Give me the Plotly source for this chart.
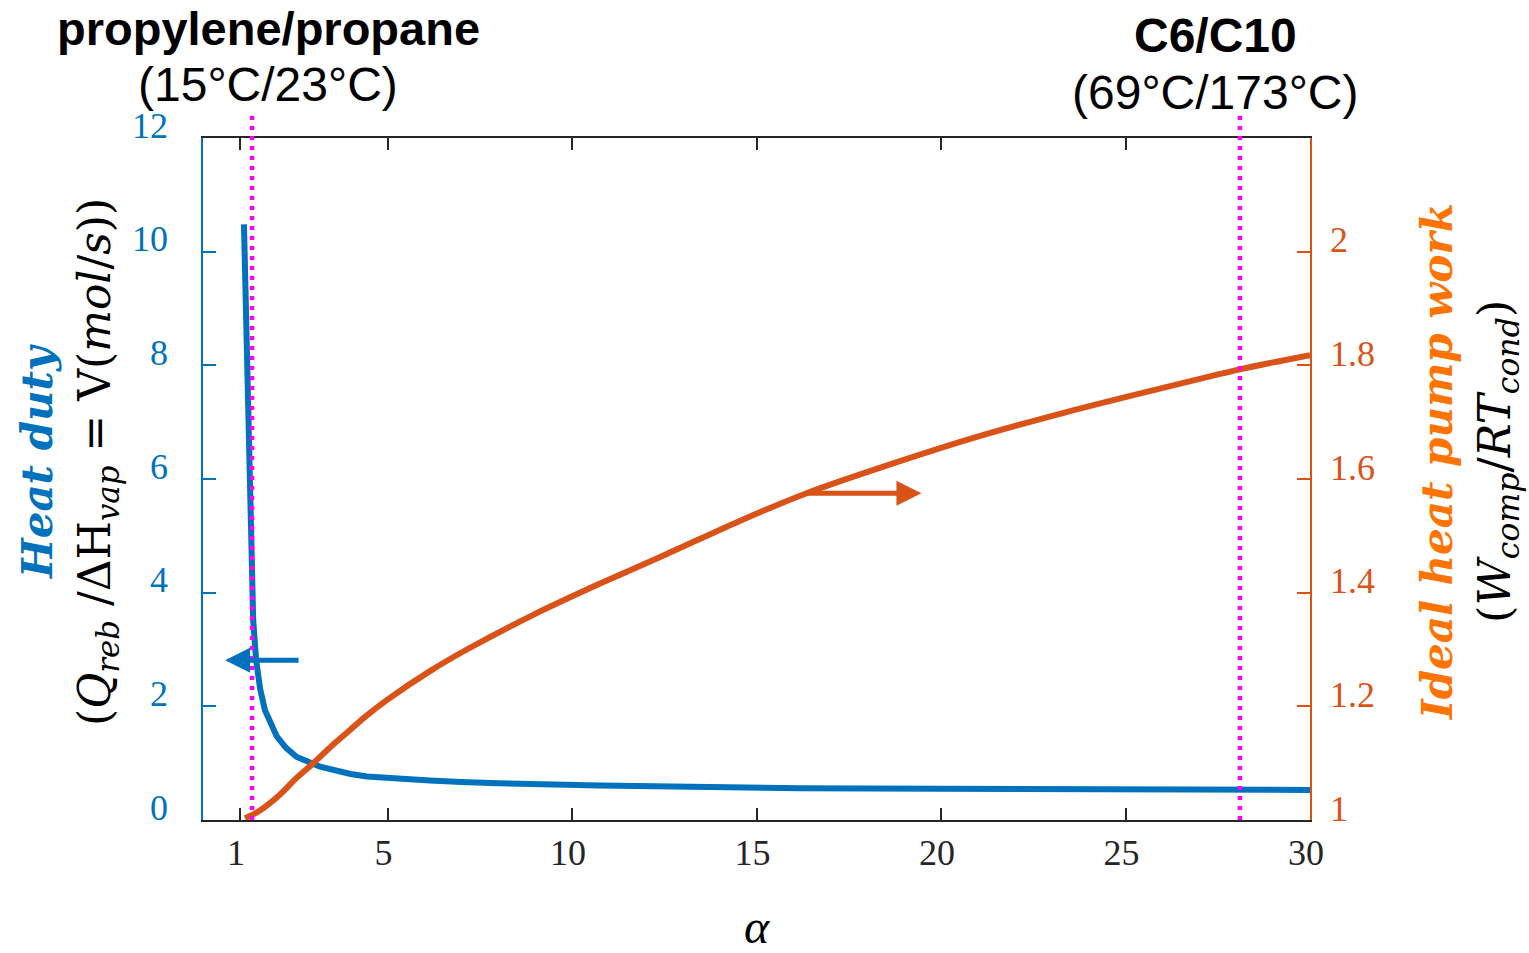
import plotly.graph_objects as go

# ---- data ----
alpha_duty = [1.11, 1.36, 1.44, 1.55, 1.68, 1.8, 2.0, 2.25, 2.54, 3.17, 3.6, 4.0, 4.44, 5.34, 6.15, 7.0, 8.0,
              10.76, 13.0, 16.18, 20.0, 24.3, 30.0]
heat_duty = [10.48, 3.52, 2.81, 2.30, 1.93, 1.75, 1.47, 1.27, 1.11, 0.94, 0.86, 0.81, 0.765, 0.72, 0.695, 0.67,
             0.645, 0.607, 0.58, 0.557, 0.548, 0.54, 0.528]

alpha_work = [1.14, 1.5, 2.09, 2.5, 2.99, 3.5, 3.89, 4.4, 4.98, 6.15, 7.15, 8.95, 10.76, 12.57, 14.5, 16.36,
              18.5, 20.97, 23.3, 25.68, 28.1, 30.0]
hp_work = [1.003, 1.015, 1.045, 1.072, 1.100, 1.131, 1.153, 1.182, 1.211, 1.262, 1.300, 1.361, 1.416, 1.468,
           1.525, 1.575, 1.623, 1.674, 1.716, 1.755, 1.793, 1.818]

marker_alphas = [1.33, 28.1]          # vertical dotted lines
x_ticks = [1, 5, 10, 15, 20, 25, 30]
y1_ticks = [0, 2, 4, 6, 8, 10, 12]
y2_ticks = [1, 1.2, 1.4, 1.6, 1.8, 2]
y2_ticklabels = ["1", "1.2", "1.4", "1.6", "1.8", "2"]

BLUE = "#0072BD"
ORANGE = "#D95319"
TITLE_ORANGE = "#FF7300"
MAGENTA = "#FF00FF"
DARK = "#262626"

W, H = 1529, 953
L, R, T, B = 203, 1310, 138, 820


def px(xp):
    return (xp - L) / (R - L)


def py(yp):
    return (B - yp) / (B - T)


fig = go.Figure()
fig.add_trace(go.Scatter(x=alpha_duty, y=heat_duty, mode="lines",
                         line=dict(color=BLUE, width=6), showlegend=False, cliponaxis=False))
fig.add_trace(go.Scatter(x=alpha_work, y=hp_work, mode="lines", yaxis="y2",
                         line=dict(color=ORANGE, width=6, shape="spline", smoothing=0.8),
                         showlegend=False, cliponaxis=False))

for a in marker_alphas:
    fig.add_shape(type="line", xref="x", yref="paper", x0=a, x1=a, y0=0, y1=py(113),
                  line=dict(color=MAGENTA, width=4.5, dash="4px,6px"))

serif = "Liberation Serif"
sans = "Liberation Sans"
mathf = "DejaVu Serif"


def label(xp, yp, text, font, angle=0):
    return dict(x=px(xp), y=py(yp), xref="paper", yref="paper", text=text, textangle=angle,
                xanchor="center", yanchor="middle", showarrow=False, font=font)


annotations = [
    # arrows
    dict(x=0.6, y=2.81, ax=2.63, ay=2.81, xref="x", yref="y", axref="x", ayref="y",
         text="", showarrow=True, arrowhead=2, arrowsize=1, arrowwidth=5, arrowcolor=BLUE),
    dict(x=19.47, y=1.575, ax=16.36, ay=1.575, xref="x", yref="y2", axref="x", ayref="y2",
         text="", showarrow=True, arrowhead=2, arrowsize=1, arrowwidth=5, arrowcolor=ORANGE),
    # top labels
    label(268, 29, "<b>propylene/propane</b>", dict(family=sans, size=47, color="black")),
    label(268, 84, "(15°C/23°C)", dict(family=sans, size=48, color="black")),
    label(1215, 36, "<b>C6/C10</b>", dict(family=sans, size=48, color="black")),
    label(1215, 92, "(69°C/173°C)", dict(family=sans, size=48, color="black")),
    # left axis title
    label(37, 462, "<b><i>Heat duty</i></b>", dict(family=mathf, size=42, color=BLUE), -90),
    label(97, 462, "(<i>Q</i><sub><i>reb</i></sub> /ΔH<sub><i>vap</i></sub> = V(<i>mol</i>/<i>s</i>))",
          dict(family=mathf, size=44, color="black"), -90),
    # right axis title
    label(1437, 462, "<b><i>Ideal heat pump work</i></b>", dict(family=mathf, size=42, color=TITLE_ORANGE), -90),
    label(1497, 462, "(<i>W</i><sub><i>comp</i></sub>/<i>RT</i><sub><i>cond</i></sub>)",
          dict(family=mathf, size=45, color="black"), -90),
    # x axis title
    label(757, 926, "<i>α</i>", dict(family=serif, size=48, color="black")),
]

fig.update_layout(
    width=W, height=H,
    margin=dict(l=L, r=W - R, t=T, b=H - B, pad=0),
    paper_bgcolor="white", plot_bgcolor="white",
    annotations=annotations,
    xaxis=dict(range=[0, 30], tickvals=x_ticks, ticks="inside", ticklen=12, tickwidth=1.5,
               tickcolor=DARK, showline=True, linecolor=DARK, linewidth=1.5, mirror="ticks",
               showgrid=False, zeroline=False,
               tickfont=dict(family=serif, size=36, color=DARK),
               ticklabelstandoff=0, ticklabelshift=-4),
    yaxis=dict(range=[0, 12], tickvals=y1_ticks, ticks="inside", ticklen=13, tickwidth=1.5,
               tickcolor=BLUE, showline=True, linecolor=BLUE, linewidth=1.5,
               showgrid=False, zeroline=False,
               tickfont=dict(family=serif, size=36, color=BLUE),
               ticklabelstandoff=26, ticklabelshift=-13),
    yaxis2=dict(range=[1, 2.2], tickvals=y2_ticks, ticktext=y2_ticklabels, overlaying="y", side="right",
                ticks="inside", ticklen=13, tickwidth=1.5, tickcolor=ORANGE,
                showline=True, linecolor=ORANGE, linewidth=1.5,
                showgrid=False, zeroline=False,
                tickfont=dict(family=serif, size=36, color=ORANGE),
                ticklabelstandoff=11, ticklabelshift=-12),
)

fig.write_html("out.html", config={"displayModeBar": False},
               post_script="document.body.style.margin='0';")
